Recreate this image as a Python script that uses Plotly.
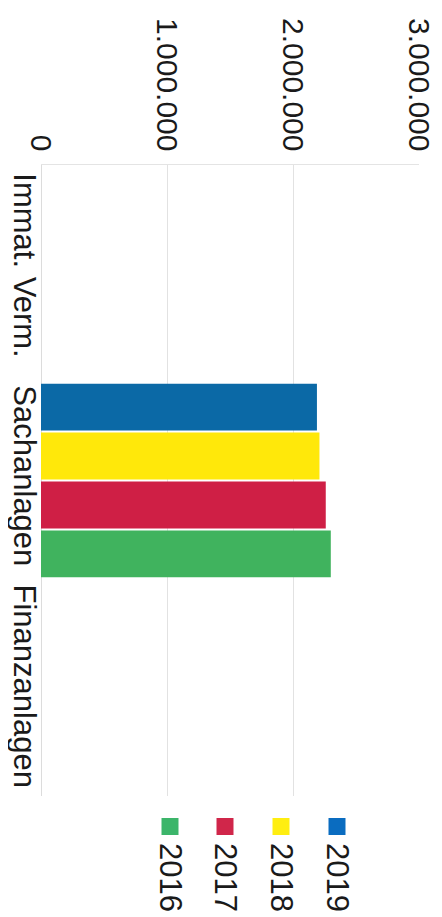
import plotly.graph_objects as go

categories = ["Immat. Verm.", "Sachanlagen", "Finanzanlagen"]
years = ["2019", "2018", "2017", "2016"]
values_2019 = [0, 2190000, 0]
values_2018 = [0, 2210000, 0]
values_2017 = [0, 2260000, 0]
values_2016 = [0, 2300000, 0]
x_ticks = [0, 1000000, 2000000, 3000000]

series = [values_2019, values_2018, values_2017, values_2016]
colors = ["#0b69a6", "#ffe80a", "#cf1f45", "#40b35e"]
legend_colors = ["#0a6cc0", "#ffee10", "#d0264a", "#3cb56a"]

# page body has an 8px default margin; figure coordinates = page - 8
OFF = 8
W, H = 442 - OFF, 917 - OFF
ML, MT = 41 - OFF, 165 - OFF
MR = W - (419 - OFF)
MB = H - (796 - OFF)
PW, PH = W - ML - MR, H - MT - MB

FONT = "Liberation Sans, Arial, sans-serif"


def px_x(page_x):
    return (page_x - OFF - ML) / PW


def px_y(page_y):
    return (H - MB - (page_y - OFF)) / PH


fig = go.Figure()
for name, vals, c in zip(years, series, colors):
    fig.add_trace(go.Bar(y=categories, x=vals, name=name, orientation="h",
                         marker=dict(color=c, line=dict(width=0)), showlegend=False))

# custom rotated legend
legend_x = {"2019": 337, "2018": 281, "2017": 225, "2016": 170}
shapes = []
annotations = []
for name, c in zip(years, legend_colors):
    cx = legend_x[name]
    sq = 17
    shapes.append(dict(type="rect", xref="paper", yref="paper",
                       x0=px_x(cx - sq / 2), x1=px_x(cx + sq / 2),
                       y0=px_y(835), y1=px_y(818),
                       fillcolor=c, line=dict(width=0)))
    annotations.append(dict(text=name, xref="paper", yref="paper",
                            x=px_x(cx), y=px_y(877), showarrow=False,
                            textangle=90, xanchor="center", yanchor="middle",
                            font=dict(size=31, color="#1a1a1a", family=FONT)))

fig.update_layout(
    width=W, height=H,
    margin=dict(l=ML, r=MR, t=MT, b=MB, autoexpand=False),
    paper_bgcolor="white", plot_bgcolor="white",
    barmode="group", bargap=0.07, bargroupgap=0.04,
    separators=",.",
    font=dict(family=FONT, size=30, color="#1a1a1a"),
    shapes=shapes, annotations=annotations,
    xaxis=dict(side="top", range=[0, 3000000], tickvals=x_ticks, tickformat=",d",
               tickangle=90, showgrid=True, gridcolor="#e2e2e2", gridwidth=1,
               zeroline=True, zerolinecolor="#dcdcdc", zerolinewidth=1,
               showline=True, linecolor="#e4e4e4", linewidth=1, ticks="",
               ticklabelstandoff=2, automargin=False, fixedrange=True),
    yaxis=dict(categoryorder="array", categoryarray=categories, autorange="reversed",
               tickangle=90, showgrid=False, zeroline=False, showline=False, ticks="",
               tickfont=dict(size=31), ticklabelstandoff=-5, automargin=False,
               fixedrange=True),
)

fig.write_html("out.html")
